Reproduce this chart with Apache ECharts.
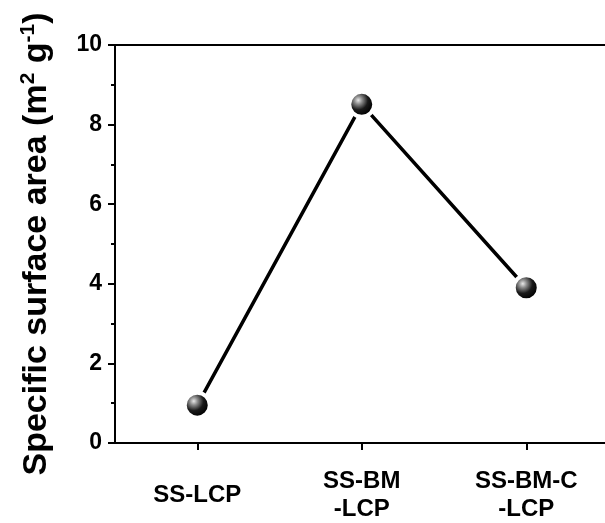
<!DOCTYPE html>
<html>
<head>
<meta charset="utf-8">
<script src="https://cdn.jsdelivr.net/npm/echarts@6/dist/echarts.min.js"></script>
<style>
html,body{margin:0;padding:0;background:#fff;overflow:hidden;}
#chart{width:609px;height:523px;}
</style>
</head>
<body>
<div id="chart"></div>
<script>
const categories = ['SS-LCP', 'SS-BM\n-LCP', 'SS-BM-C\n-LCP'];
const surfaceArea = [0.95, 8.51, 3.90];
const yTicks = [0, 2, 4, 6, 8, 10];

const chart = echarts.init(document.getElementById('chart'), null, {renderer: 'canvas'});
const FONT = '"Liberation Sans", Arial, sans-serif';

chart.setOption({
  animation: false,
  backgroundColor: '#fff',
  grid: {left: 115, right: 0.5, top: 45, bottom: 80, show: false},
  xAxis: [{
    type: 'category',
    data: categories,
    boundaryGap: true,
    axisLine: {lineStyle: {color: '#000', width: 2}},
    axisTick: {show: true, alignWithLabel: true, inside: false, length: 7, lineStyle: {color: '#000', width: 2}},
    axisLabel: {
      color: '#000', fontFamily: FONT, fontWeight: 'bold', fontSize: 24,
      lineHeight: 28, verticalAlign: 'middle', margin: 52, interval: 0
    },
    splitLine: {show: false}
  }, {
    type: 'category',
    position: 'top',
    data: categories,
    axisLine: {show: true, lineStyle: {color: '#000', width: 2}},
    axisTick: {show: false},
    axisLabel: {show: false},
    splitLine: {show: false}
  }],
  yAxis: {
    type: 'value',
    min: yTicks[0], max: yTicks[yTicks.length - 1], interval: 2,
    name: '{a|Specific surface area (m}{s|2}{a| g}{s|-1}{a|)}',
    nameLocation: 'middle',
    nameGap: 60,
    nameTextStyle: {
      rich: {
        a: {fontFamily: FONT, fontWeight: 'bold', fontSize: 34, color: '#000', lineHeight: 37},
        s: {fontFamily: FONT, fontWeight: 'bold', fontSize: 21, color: '#000', verticalAlign: 'top', lineHeight: 37, padding: [0, 0, 14, 0]}
      }
    },
    axisLine: {show: true, lineStyle: {color: '#000', width: 2}},
    axisTick: {show: true, inside: false, length: 7, lineStyle: {color: '#000', width: 2}},
    minorTick: {show: true, splitNumber: 2, length: 4, lineStyle: {color: '#000', width: 2}},
    axisLabel: {color: '#000', fontFamily: FONT, fontWeight: 'bold', fontSize: 23, margin: 13},
    splitLine: {show: false}
  },
  series: [{
    type: 'line',
    data: surfaceArea,
    symbol: 'circle',
    symbolSize: 25,
    lineStyle: {color: '#000', width: 3.5},
    itemStyle: {
      color: {
        type: 'radial', x: 0.38, y: 0.36, r: 0.55,
        colorStops: [
          {offset: 0, color: '#e8e8e8'},
          {offset: 0.25, color: '#8a8a8a'},
          {offset: 0.6, color: '#1a1a1a'},
          {offset: 1, color: '#000'}
        ]
      },
      borderColor: '#fff',
      borderWidth: 4
    },
    z: 5
  }]
});
</script>
</body>
</html>
